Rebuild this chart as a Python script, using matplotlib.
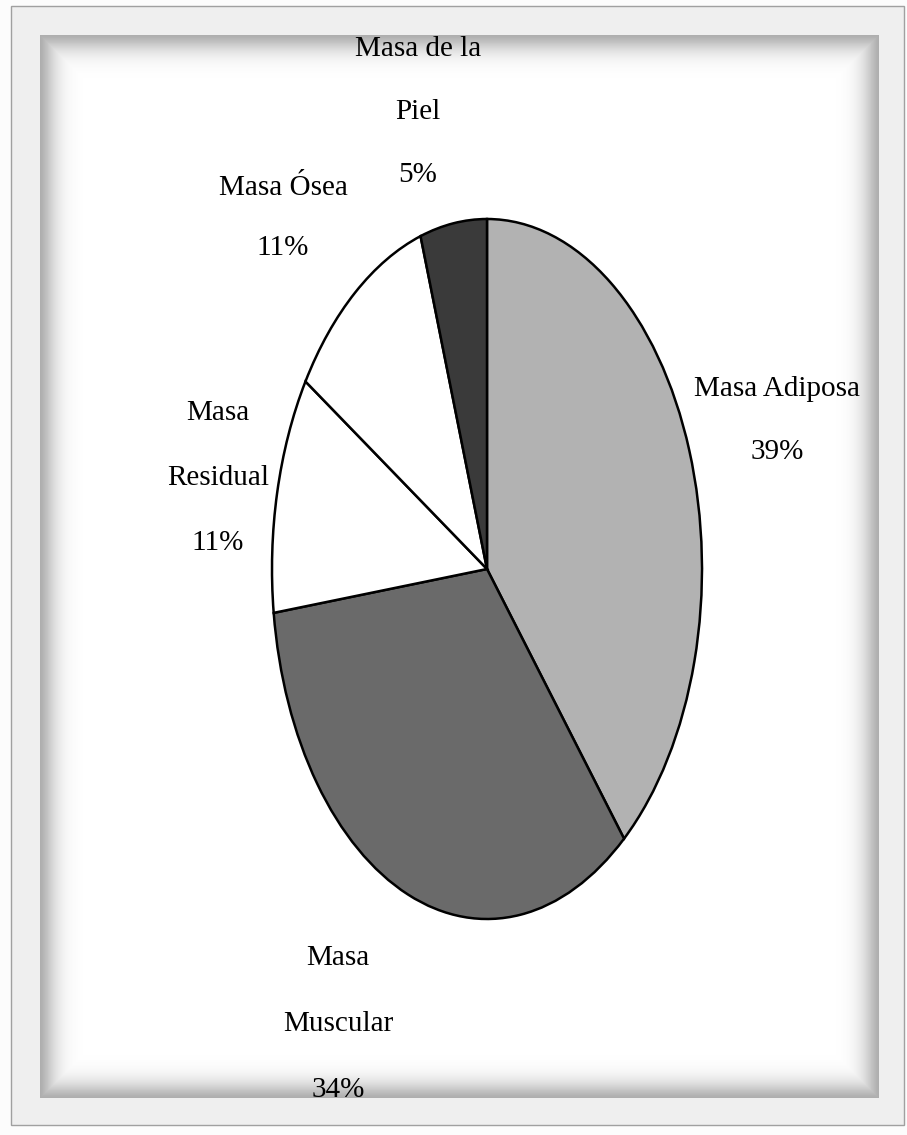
import numpy as np
import matplotlib.pyplot as plt
from matplotlib.patches import Rectangle

# --- data ---
categories = ["Masa Adiposa", "Masa Muscular", "Masa Residual", "Masa Ósea", "Masa de la Piel"]
percents = [39, 34, 11, 11, 5]
slice_colors = ["#b2b2b2", "#6a6a6a", "#ffffff", "#ffffff", "#3a3a3a"]
# how each label is broken over lines in the original
label_lines = [
    ["Masa Adiposa"],
    ["Masa", "Muscular"],
    ["Masa", "Residual"],
    ["Masa Ósea"],
    ["Masa de la", "Piel"],
]

# --- layout (pixels, origin top-left) ---
W, H = 907, 1135
pie_cx, pie_cy = 487, 569
pie_rx, pie_ry = 215, 350
# x centre, first baseline, line step
label_pos = [
    (777, 396, 63),
    (338, 965, 66),
    (218, 420, 65),
    (283, 195, 60),
    (418, 56, 63),
]
frame = (40, 35, 879, 1098)  # inner grey frame: left, top, right, bottom

fig = plt.figure(figsize=(W / 100, H / 100), dpi=100)

# background with the shaded picture frame
bg = fig.add_axes([0, 0, 1, 1])
bg.set_xlim(0, W)
bg.set_ylim(H, 0)
bg.axis('off')
yy, xx = np.mgrid[0:H, 0:W] + 0.5
fl, ft, fr, fb = frame
d = np.minimum.reduce([xx - fl, fr - xx, yy - ft, fb - yy])
shade = np.where(d < 0, 0.935, 1 - 0.32 * np.exp(-(np.clip(d, 0, None) / 16.0) ** 1.5))
outside = (xx < 11) | (xx > 904) | (yy < 6) | (yy > 1125)
shade = np.where(outside, 0.985, shade)
bg.imshow(shade, cmap='gray', vmin=0, vmax=1, extent=(0, W, H, 0),
          aspect='auto', interpolation='bilinear', zorder=0)
bg.add_patch(Rectangle((11, 6), 893, 1119, fill=False, edgecolor='#a0a0a0',
                       linewidth=1.0, zorder=1))

# pie drawn in its own axes so it can be stretched into an ellipse
pad = 1.02
ax = fig.add_axes([(pie_cx - pie_rx * pad) / W,
                   1 - (pie_cy + pie_ry * pad) / H,
                   2 * pie_rx * pad / W,
                   2 * pie_ry * pad / H])
ax.pie(percents, colors=slice_colors, startangle=90, counterclock=False,
       wedgeprops=dict(edgecolor='black', linewidth=1.8))
ax.set_aspect('auto')
ax.set_xlim(-pad, pad)
ax.set_ylim(-pad, pad)
ax.patch.set_alpha(0)
ax.axis('off')

# labels with percentages
clip = Rectangle((fl, ft), fr - fl, fb - ft, transform=bg.transData)
for lines, pct, (x, y0, step) in zip(label_lines, percents, label_pos):
    for k, line in enumerate(lines + [f"{pct}%"]):
        t = bg.text(x, y0 + k * step, line, ha='center', va='baseline',
                    fontsize=21, family='Liberation Serif', color='black',
                    zorder=3)
        t.set_clip_path(clip)

fig.savefig("out.png", dpi=100)
